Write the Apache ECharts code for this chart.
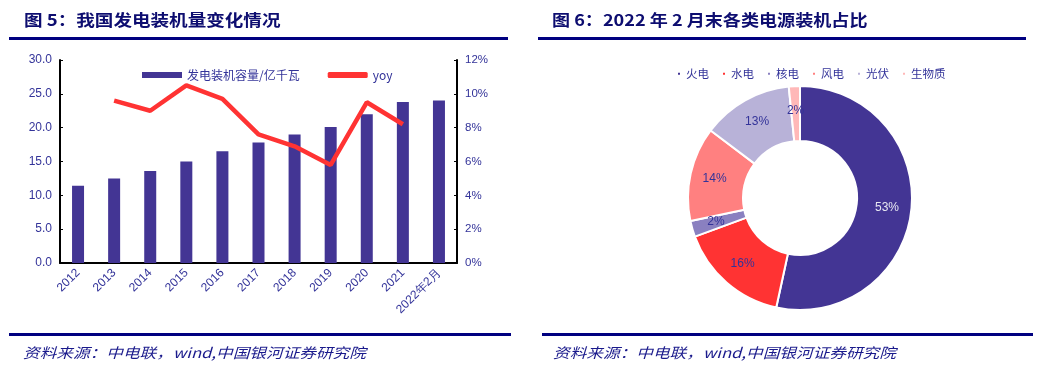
<!DOCTYPE html>
<html><head><meta charset="utf-8">
<script src="https://cdn.jsdelivr.net/npm/echarts@6/dist/echarts.min.js"></script>
<style>html,body{margin:0;padding:0;background:#fff;}#c{width:1038px;height:384px;}</style>
</head><body><div id="c"></div>
<script>
var years = ['2012','2013','2014','2015','2016','2017','2018','2019','2020','2021','2022年2月'];
var capacity = [11.4,12.5,13.6,15.0,16.5,17.8,19.0,20.1,22.0,23.8,24.0];
var yoy = [null,9.6,9.0,10.5,9.7,7.6,6.9,5.8,9.5,8.2,null];
var pieNames = ['火电','水电','核电','风电','光伏','生物质'];
var pieValues = [53.4,16.0,2.3,13.6,13.1,1.6];
var pieColors = ['#433594','#FF3333','#8A80C0','#FF8080','#B8B2D8','#FFB8B8'];

var txt = '#333399';
var ff = '"Noto Sans CJK SC","DejaVu Sans",sans-serif';
var lf = '"Liberation Sans",Arial,sans-serif';
var chart = echarts.init(document.getElementById('c'));
chart.setOption({
  animation:false,
  textStyle:{fontFamily:ff},
  grid:{left:60,right:581,top:60,bottom:121},
  legend:[{
    data:[{name:'发电装机容量/亿千瓦',icon:'rect'},{name:'yoy',icon:'roundRect'}],
    left:137,top:64,itemWidth:40,itemHeight:6,itemGap:28,
    textStyle:{color:txt,fontSize:12,fontFamily:ff}
  },{
    data:pieNames,left:671,top:63,itemWidth:4,itemHeight:4,itemGap:12,icon:'rect',
    textStyle:{color:txt,fontSize:11.5,fontFamily:ff}
  }],
  xAxis:{type:'category',data:years,
    axisLine:{lineStyle:{color:'#000',width:2}},
    axisTick:{inside:true,length:4,lineStyle:{color:'#000',width:2}},
    axisLabel:{rotate:45,color:txt,fontSize:12,fontFamily:lf,margin:8,interval:0}
  },
  yAxis:[{type:'value',min:0,max:30,interval:5,
    axisLine:{show:true,lineStyle:{color:'#000',width:2}},
    axisTick:{show:true,inside:true,length:3,lineStyle:{color:'#000'}},
    splitLine:{show:false},
    axisLabel:{color:txt,fontSize:12,fontFamily:lf,formatter:function(v){return v.toFixed(1);}}
  },{type:'value',min:0,max:12,interval:2,position:'right',
    axisLine:{show:true,lineStyle:{color:'#000',width:2}},
    axisTick:{show:true,inside:true,length:3,lineStyle:{color:'#000'}},
    splitLine:{show:false},
    axisLabel:{color:txt,fontSize:11.5,fontFamily:lf,formatter:'{value}%'}
  }],
  series:[{
    name:'发电装机容量/亿千瓦',type:'bar',data:capacity,barWidth:12,
    itemStyle:{color:'#433594'}
  },{
    name:'yoy',type:'line',yAxisIndex:1,data:yoy,symbol:'none',showSymbol:false,
    lineStyle:{color:'#FF3333',width:4.5},itemStyle:{color:'#FF3333'}
  },{
    type:'pie',center:[800,198],radius:[57,112],startAngle:90,clockwise:true,
    data:pieNames.map(function(n,i){return {name:n,value:pieValues[i],
      itemStyle:{color:pieColors[i]},
      label:{color:i===0?'#E8E8F2':txt}};}),
    itemStyle:{borderColor:'#fff',borderWidth:2},
    label:{show:true,position:'inside',fontSize:12,fontFamily:lf,
      formatter:function(p){return Math.round(p.percent)+'%';}},
    labelLine:{show:false}
  }],
  graphic:[
    {type:'rect',shape:{x:9,y:37,width:499,height:3},style:{fill:'#000080'}},
    {type:'rect',shape:{x:538,y:37,width:488,height:3},style:{fill:'#000080'}},
    {type:'rect',shape:{x:9,y:333,width:502,height:3},style:{fill:'#000080'}},
    {type:'rect',shape:{x:542,y:333,width:491,height:3},style:{fill:'#000080'}},
    {type:'text',x:24,y:20,scaleX:1.16,style:{text:'图 5：我国发电装机量变化情况',fill:'#0d0d70',font:'bold 16px '+ff,textVerticalAlign:'middle'}},
    {type:'text',x:552,y:20,scaleX:1.13,style:{text:'图 6：2022 年 2 月末各类电源装机占比',fill:'#0d0d70',font:'bold 16px '+ff,textVerticalAlign:'middle'}},
    {type:'text',x:23,y:353,scaleX:1.19,style:{text:'资料来源：中电联，wind,中国银河证券研究院',fill:'#1a1a8c',font:'italic 14px '+ff,textVerticalAlign:'middle'}},
    {type:'text',x:553,y:353,scaleX:1.19,style:{text:'资料来源：中电联，wind,中国银河证券研究院',fill:'#1a1a8c',font:'italic 14px '+ff,textVerticalAlign:'middle'}}
  ]
});
</script></body></html>
